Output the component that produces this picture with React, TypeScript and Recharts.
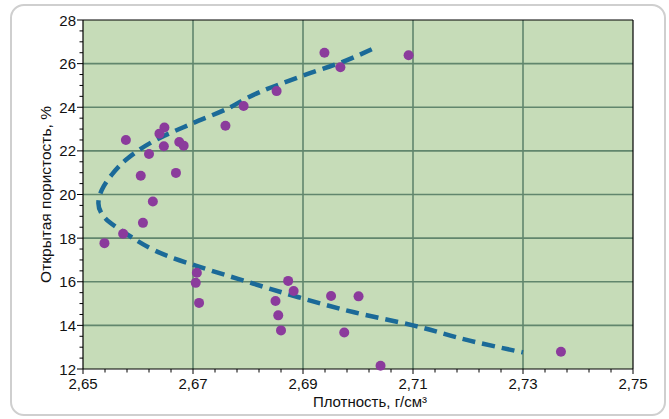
import React from 'react';
import {
  ScatterChart,
  Scatter,
  XAxis,
  YAxis,
  CartesianGrid,
  ReferenceLine,
} from 'recharts';

// major tick labels
const xMajorTicks = [2.65, 2.67, 2.69, 2.71, 2.73, 2.75];
const yMajorTicks = [12, 14, 16, 18, 20, 22, 24, 26, 28];

// measured samples: density (g/cm3) vs open porosity (%)
const samples = [
  { x: 2.6939, y: 26.5 },
  { x: 2.7092, y: 26.38 },
  { x: 2.6968, y: 25.83 },
  { x: 2.6852, y: 24.74 },
  { x: 2.6792, y: 24.06 },
  { x: 2.6759, y: 23.15 },
  { x: 2.6648, y: 23.07 },
  { x: 2.6639, y: 22.79 },
  { x: 2.6578, y: 22.5 },
  { x: 2.6675, y: 22.41 },
  { x: 2.6683, y: 22.24 },
  { x: 2.6647, y: 22.21 },
  { x: 2.662, y: 21.86 },
  { x: 2.6605, y: 20.86 },
  { x: 2.6669, y: 20.99 },
  { x: 2.6627, y: 19.68 },
  { x: 2.6609, y: 18.7 },
  { x: 2.6573, y: 18.2 },
  { x: 2.6539, y: 17.77 },
  { x: 2.6707, y: 16.41 },
  { x: 2.6705, y: 15.95 },
  { x: 2.6711, y: 15.03 },
  { x: 2.6873, y: 16.04 },
  { x: 2.6883, y: 15.58 },
  { x: 2.685, y: 15.12 },
  { x: 2.6855, y: 14.46 },
  { x: 2.686, y: 13.77 },
  { x: 2.6951, y: 15.35 },
  { x: 2.7001, y: 15.33 },
  { x: 2.6975, y: 13.67 },
  { x: 2.7041, y: 12.15 },
  { x: 2.7369, y: 12.79 },
];

// dashed trend curve
const trendCurve = [
  { x: 2.7025, y: 26.66 },
  { x: 2.6968, y: 26.04 },
  { x: 2.69, y: 25.45 },
  { x: 2.68, y: 24.45 },
  { x: 2.6768, y: 24.0 },
  { x: 2.6698, y: 23.25 },
  { x: 2.6636, y: 22.55 },
  { x: 2.6581, y: 21.65 },
  { x: 2.6552, y: 20.9 },
  { x: 2.6534, y: 20.2 },
  { x: 2.6528, y: 19.6 },
  { x: 2.654, y: 18.92 },
  { x: 2.6574, y: 18.28 },
  { x: 2.6659, y: 17.13 },
  { x: 2.6705, y: 16.74 },
  { x: 2.6791, y: 16.06 },
  { x: 2.6892, y: 15.29 },
  { x: 2.6993, y: 14.6 },
  { x: 2.7102, y: 13.99 },
  { x: 2.7203, y: 13.3 },
  { x: 2.73, y: 12.76 },
];

const withMinor = (major: number[], parts: number) => {
  const out: number[] = [];
  major.forEach((v, i) => {
    out.push(v);
    if (i < major.length - 1) {
      const step = (major[i + 1] - v) / parts;
      for (let k = 1; k < parts; k++) out.push(Number((v + step * k).toFixed(4)));
    }
  });
  return out;
};

const xTicks = withMinor(xMajorTicks, 5);
const yTicks = withMinor(yMajorTicks, 4);
const isMajor = (list: number[], v: number) => list.some((m) => Math.abs(m - v) < 1e-6);

const FONT = '"Liberation Sans", Arial, sans-serif';
const GRID = '#61866d';
const DOT = '#8b3b9c';
const CURVE = '#1b6a98';

const XTick = (props: any) => {
  const { x, y, payload } = props;
  const major = isMajor(xMajorTicks, payload.value);
  return (
    <g>
      <line x1={x} x2={x} y1={y} y2={y + (major ? 5 : 3.5)} stroke="#000" strokeWidth={1} />
      {major && (
        <text x={x} y={y + 20} textAnchor="middle" fontSize={15} fontFamily={FONT} fill="#111">
          {payload.value.toFixed(2).replace('.', ',')}
        </text>
      )}
    </g>
  );
};

const YTick = (props: any) => {
  const { x, y, payload } = props;
  const major = isMajor(yMajorTicks, payload.value);
  return (
    <g>
      <line x1={x - (major ? 6 : 3.5)} x2={x} y1={y} y2={y} stroke="#000" strokeWidth={1} />
      {major && (
        <text x={x - 7} y={y + 5.5} textAnchor="end" fontSize={15} fontFamily={FONT} fill="#111">
          {payload.value}
        </text>
      )}
    </g>
  );
};

const Dot = (props: any) => <circle cx={props.cx} cy={props.cy} r={5} fill={DOT} />;

export default function App() {
  return (
    <div style={{ position: 'absolute', left: 0, top: 0, width: 669, height: 419, background: '#fff' }}>
      <div
        style={{
          position: 'absolute',
          left: 10,
          top: 4,
          width: 652,
          height: 408,
          border: '2px solid #cfcfcf',
          borderRadius: 14,
        }}
      />
      <div style={{ position: 'absolute', left: 0, top: 0 }}>
        <ScatterChart width={669} height={419} margin={{ top: 20, right: 36, bottom: 10, left: 11 }}>
          <CartesianGrid
            fill="#c6dcb8"
            fillOpacity={1}
            stroke={GRID}
            strokeWidth={1.6}
            verticalValues={[2.67, 2.69, 2.71, 2.73]}
            horizontalValues={[14, 16, 18, 20, 22, 24, 26]}
          />
          <XAxis
            type="number"
            dataKey="x"
            domain={[2.65, 2.75]}
            ticks={xTicks}
            interval={0}
            height={40}
            tickSize={0}
            tickMargin={0}
            tickLine={false}
            tick={<XTick />}
            axisLine={{ stroke: '#000', strokeWidth: 1.2 }}
            label={{
              content: (p: any) => {
                const vb = p.viewBox;
                return (
                  <text
                    x={vb.x + vb.width / 2 + 12}
                    y={vb.y + 38}
                    textAnchor="middle"
                    fontSize={15}
                    fontFamily={FONT}
                    fill="#111"
                  >
                    Плотность, г/см³
                  </text>
                );
              },
            }}
          />
          <YAxis
            type="number"
            dataKey="y"
            domain={[12, 28]}
            ticks={yTicks}
            interval={0}
            width={72}
            tickSize={0}
            tickMargin={0}
            tickLine={false}
            tick={<YTick />}
            axisLine={{ stroke: '#000', strokeWidth: 1.2 }}
            label={{
              content: (p: any) => {
                const vb = p.viewBox;
                const cx = vb.x + 39.5;
                const cy = vb.y + vb.height / 2;
                return (
                  <text
                    x={cx}
                    y={cy}
                    transform={`rotate(-90 ${cx} ${cy})`}
                    textAnchor="middle"
                    fontSize={15.5}
                    fontFamily={FONT}
                    fill="#111"
                  >
                    Открытая пористость, %
                  </text>
                );
              },
            }}
          />
          <ReferenceLine y={28} stroke="#000" strokeWidth={1.2} />
          <ReferenceLine x={2.75} stroke="#000" strokeWidth={1.2} />
          <Scatter
            data={trendCurve}
            line={{ stroke: CURVE, strokeWidth: 4.5, strokeDasharray: '13 7' }}
            lineJointType="monotoneY"
            shape={() => <g />}
            isAnimationActive={false}
            legendType="none"
          />
          <Scatter data={samples} shape={<Dot />} isAnimationActive={false} legendType="none" />
        </ScatterChart>
      </div>
    </div>
  );
}
